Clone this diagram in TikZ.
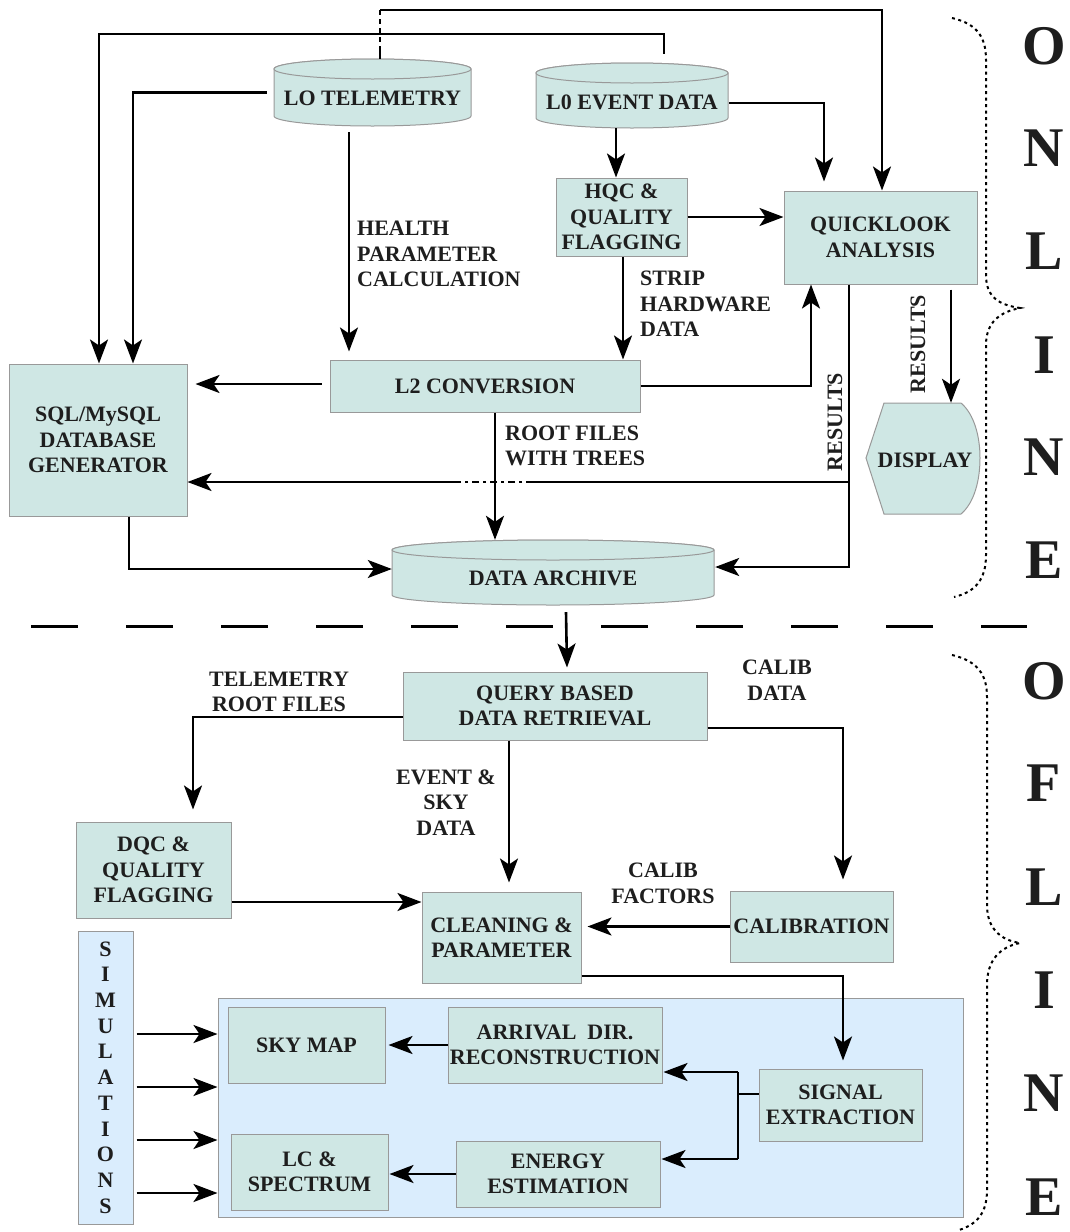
\documentclass[tikz,border=0pt]{standalone}
\usepackage{fontspec}
\setmainfont{Liberation Serif}
\usetikzlibrary{arrows.meta,calc}
\definecolor{boxc}{HTML}{CFE7E4}
\definecolor{bluec}{HTML}{DAEDFD}
\definecolor{bordc}{HTML}{999999}
\definecolor{txtc}{HTML}{1E1E1E}
\tikzset{
 box/.style={draw=bordc, line width=1pt, fill=boxc, inner sep=0pt, align=center, text=txtc, font=\bfseries\fontsize{22}{25.5}\selectfont},
 lbl/.style={inner sep=0pt, text=txtc, font=\bfseries\fontsize{22}{25.5}\selectfont},
 big/.style={inner sep=0pt, text=txtc, font=\bfseries\fontsize{56}{60}\selectfont},
 ghost/.style={inner sep=0pt, draw=none},
 cylst/.style={draw=bordc, line width=1pt, fill=boxc},
 line/.style={line width=2.6pt, black},
 arr/.style={line, -{Stealth[length=24pt,width=18pt,inset=6pt]}},
 bracest/.style={line width=2pt, dash pattern=on 3pt off 3.5pt},
}
\newcommand\mycyl[4]{%
 \filldraw[cylst] (#1-#4,#2) -- (#1-#4,#3) arc[start angle=180,end angle=360,x radius=#4pt,y radius=10pt] -- (#1+#4,#2) arc[start angle=0,end angle=180,x radius=#4pt,y radius=10pt] -- cycle;
 \filldraw[cylst] (#1,#2) ellipse[x radius=#4pt, y radius=10pt];
}
\begin{document}
\begin{tikzpicture}[x=1pt,y=-1pt]
\useasboundingbox (0,0) rectangle (1070,1232);

% ---- cylinders
\mycyl{372.5}{69}{116}{98.5}
\mycyl{632}{73}{118}{96}
\mycyl{553}{550}{595}{161}
\node[ghost, minimum width=197pt, minimum height=67pt] (tel) at (372.5,92.5) {};
\node[lbl] (telT) at (372.5,98) {LO TELEMETRY};
\node[ghost, minimum width=192pt, minimum height=65pt] (evt) at (632,95.5) {};
\node[lbl] (evtT) at (632,102) {L0 EVENT DATA};
\node[ghost, minimum width=322pt, minimum height=65pt] (arch) at (553,572.5) {};
\node[lbl] (archT) at (553,578) {DATA ARCHIVE};

% ---- online boxes
\node[box, minimum width=131pt, minimum height=78pt] (hqc) at (621.5,217) {HQC \&\\QUALITY\\FLAGGING};
\node[box, minimum width=193pt, minimum height=93pt] (ql) at (880.5,237.5) {QUICKLOOK\\ANALYSIS};
\node[box, minimum width=310pt, minimum height=52pt] (l2) at (485,386) {L2 CONVERSION};
\node[box, minimum width=178pt, minimum height=152pt] (sql) at (98,440) {SQL/MySQL\\DATABASE\\GENERATOR};
\filldraw[draw=bordc, line width=1pt, fill=boxc] (866,458) -- (884,403) -- (961,403) .. controls (974,414) and (980,436) .. (980,458) .. controls (980,481) and (974,503) .. (961,514) -- (884,514) -- cycle;
\node[ghost, minimum width=114pt, minimum height=111pt] (disp) at (923,458.5) {};
\node[lbl] (dispT) at (925,460) {DISPLAY};

% ---- offline boxes
\node[box, minimum width=304pt, minimum height=68pt] (query) at (555,706) {QUERY BASED\\DATA RETRIEVAL};
\node[box, minimum width=155pt, minimum height=96pt] (dqc) at (153.5,870) {DQC \&\\QUALITY\\FLAGGING};
\node[box, minimum width=163pt, minimum height=71pt] (calib) at (811.5,926.5) {CALIBRATION};
\node[box, minimum width=159pt, minimum height=91pt] (clean) at (501.5,937.5) {CLEANING \&\\PARAMETER};
\node[draw=bordc, line width=1pt, fill=bluec, minimum width=745pt, minimum height=219pt, inner sep=0pt] (cont) at (590.5,1107.5) {};
\node[box, minimum width=157pt, minimum height=76pt] (sky) at (306.5,1045) {SKY MAP};
\node[box, minimum width=214pt, minimum height=76pt] (arr) at (555,1045) {ARRIVAL\ \ DIR.\\RECONSTRUCTION};
\node[box, minimum width=157pt, minimum height=76pt] (lc) at (309.5,1172) {LC \&\\SPECTRUM};
\node[box, minimum width=204pt, minimum height=66pt] (en) at (558,1174) {ENERGY\\ESTIMATION};
\node[box, minimum width=163pt, minimum height=72pt] (sig) at (840.5,1105) {SIGNAL\\EXTRACTION};
\node[box, fill=bluec, minimum width=55pt, minimum height=293pt, font=\bfseries\fontsize{22}{25.7}\selectfont] (sim) at (105.5,1077.5) {S\\I\\M\\U\\L\\A\\T\\I\\O\\N\\S};

% ---- labels
\node[lbl, anchor=west, align=left] (hpc) at (357,254) {HEALTH\\PARAMETER\\CALCULATION};
\node[lbl, anchor=west, align=left] (shd) at (640,304) {STRIP\\HARDWARE\\DATA};
\node[lbl, anchor=west, align=left] (rft) at (505,446) {ROOT FILES\\WITH TREES};
\node[lbl, align=center] (trf) at (279,692) {TELEMETRY\\ROOT FILES};
\node[lbl, align=center] (esd) at (446,802.5) {EVENT \&\\SKY\\DATA};
\node[lbl, align=center] (cd) at (777,680) {CALIB\\DATA};
\node[lbl, align=center] (cf) at (663,883.5) {CALIB\\FACTORS};
\node[lbl, rotate=90] (res1) at (835,422) {RESULTS};
\node[lbl, rotate=90] (res2) at (918,344) {RESULTS};

% ---- big side letters
\foreach \c/\yy [count=\i] in {O/46,N/148,L/251,I/355,N/457,E/560} \node[big] (on\i) at (1044,\yy) {\c};
\foreach \c/\yy [count=\i] in {O/681,F/783,L/887,I/990,N/1093,E/1197} \node[big] (off\i) at (1044,\yy) {\c};

% ---- braces and separator
\draw[bracest] (952,18) .. controls (978,24) and (986,38) .. (986,60) -- (986,275) .. controls (986,298) and (1000,305) .. (1020,308) .. controls (1000,312) and (986,322) .. (986,345) -- (986,555) .. controls (986,580) and (975,592) .. (954,597);
\draw[bracest] (952,655) .. controls (978,661) and (987,675) .. (987,697) -- (987,905) .. controls (987,928) and (1000,940) .. (1020,943) .. controls (1000,947) and (987,960) .. (987,985) -- (987,1190) .. controls (987,1212) and (978,1224) .. (959,1230);
\draw[line width=3pt, dash pattern=on 47pt off 48pt] (31,626) -- (1027,626);

% ---- online connectors
\draw[arr] ($(evt.north)+(32,-9)$) |- (99,34) -- ($(sql.north)+(1,0)$);
\draw[arr] ($(tel.west)+(-7,0)$) -| ($(sql.north)+(35,0)$);
\draw[line] ($(tel.north)+(7.5,0)$) -- ($(tel.north)+(7.5,-8)$);
\draw[line, dash pattern=on 5pt off 4pt] ($(tel.north)+(7.5,-8)$) -- ($(tel.north)+(7.5,-49)$);
\draw[arr] ($(tel.north)+(7.5,-49)$) -| ($(ql.north)+(1.5,0)$);
\draw[arr] ($(evt.south)+(-16,0)$) -- ($(hqc.north)+(-5.5,0)$);
\draw[arr] ($(evt.east)+(1,7.5)$) -| ($(ql.north)+(-56.5,-9)$);
\draw[arr] (hqc.east) -- (hqc.east -| ql.west);
\draw[arr] ($(hqc.south)+(1.5,0)$) -- ($(l2.north)+(138,0)$);
\draw[arr] ($(tel.south)+(-23.5,6)$) -- ($(l2.north)+(-136,-8)$);
\draw[arr] ($(l2.west)+(-8,-2)$) -- ($(sql.east)+(8,-56)$);
\draw[arr] (l2.east) -| ($(ql.south)+(-69.5,0)$);
\draw[arr] ($(ql.south)+(-31.5,0)$) |- ($(arch.east)+(1,-5.5)$);
\coordinate (j1) at (849,482);
\draw[line] (j1) -- (533,482);
\draw[line, dash pattern=on 7pt off 4pt on 3pt off 4pt] (533,482) -- (459,482);
\draw[arr] (459,482) -- ($(sql.east)+(0,42)$);
\draw[arr] ($(l2.south)+(10,0)$) -- ($(arch.north)+(-58,0)$);
\draw[arr] ($(sql.south)+(31,0)$) |- ($(arch.west)+(0,-3.5)$);
\draw[arr] ($(ql.south)+(70.5,5)$) -- ($(disp.north)+(28,0)$);

% ---- offline connectors
\draw[arr] ($(arch.south)+(13,7)$) -- ($(query.north)+(12,-4)$);
\draw[arr] ($(query.west)+(0,11)$) -| ($(dqc.north)+(39.5,-12)$);
\draw[arr] ($(query.south)+(-46,0)$) -- ($(clean.north)+(7.5,-9)$);
\draw[arr] ($(query.east)+(0,22)$) -| ($(calib.north)+(31.5,-11)$);
\draw[arr] (calib.west) -- ($(clean.east)+(6,-11)$);
\draw[arr] ($(dqc.east)+(0,32)$) -- ($(clean.west)+(0,-35.5)$);
\draw[arr] ($(clean.east)+(0,38.5)$) -| ($(sig.north)+(2.5,-8)$);
\draw[arr] (arr.west) -- ($(sky.east)+(3,0)$);
\draw[arr] (en.west) -- ($(lc.east)+(1,2)$);
\coordinate (br) at (738,1094);
\draw[line] ($(sig.west)+(0,-11)$) -- (br);
\draw[line] (738,1072) -- (738,1159);
\draw[arr] (738,1072) -- ($(arr.east)+(1,27)$);
\draw[arr] (738,1159) -- ($(en.east)+(1,-15)$);
\foreach \dy in {-43.5,9.5,62.5,115.5} \draw[arr] ($(sim.east)+(3,\dy)$) -- ($(cont.west)+(0,\dy-30)$);
\end{tikzpicture}
\end{document}
